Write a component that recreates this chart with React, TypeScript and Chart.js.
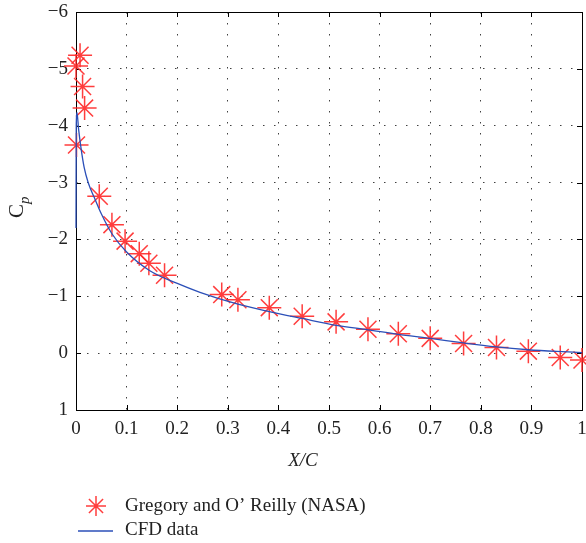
import React, { useEffect, useRef } from "react";
import { Chart, registerables } from "chart.js";

Chart.register(...registerables);

// Experimental data: Gregory and O' Reilly (NASA)
const expX = [0.008, 0.0, 0.013, 0.017, 0.001, 0.046, 0.071, 0.097, 0.125, 0.144, 0.175, 0.288, 0.32, 0.382, 0.447, 0.514, 0.577, 0.637, 0.7, 0.766, 0.831, 0.894, 0.957, 1.0];
const expCp = [-5.24, -5.05, -4.69, -4.31, -3.66, -2.76, -2.26, -1.97, -1.75, -1.58, -1.37, -1.03, -0.94, -0.8, -0.65, -0.55, -0.42, -0.34, -0.26, -0.17, -0.1, -0.035, 0.076, 0.12];

// CFD data
const cfdX = [0, 0.0005, 0.002, 0.005, 0.01, 0.016, 0.024, 0.036, 0.05, 0.071, 0.1, 0.146, 0.199, 0.245, 0.32, 0.382, 0.447, 0.514, 0.577, 0.637, 0.7, 0.766, 0.831, 0.894, 0.95, 1.0];
const cfdCp = [-2.2, -4.0, -4.23, -3.95, -3.6, -3.27, -3.0, -2.74, -2.45, -2.1, -1.78, -1.45, -1.23, -1.07, -0.86, -0.73, -0.61, -0.49, -0.41, -0.33, -0.26, -0.18, -0.11, -0.06, -0.03, -0.01];

const seriesLabels = ["Gregory and O\u2019 Reilly (NASA)", "CFD data"];
const xAxisLabel = "X/C";

const FONT = "'Liberation Serif', 'Times New Roman', serif";
const RED = "rgba(255, 40, 40, 0.9)";
const BLUE = "#2b4fb8";

const boxPlugin = {
  id: "boxTicks",
  beforeDatasetsDraw(chart: any) {
    const { ctx, chartArea: a, scales } = chart;
    ctx.save();
    ctx.strokeStyle = "#000";
    ctx.lineWidth = 1;
    ctx.strokeRect(Math.round(a.left) + 0.5, Math.round(a.top) + 0.5, Math.round(a.right - a.left), Math.round(a.bottom - a.top));
    const tl = 5;
    ctx.beginPath();
    scales.x.ticks.forEach((t: any) => {
      const px = Math.round(scales.x.getPixelForValue(t.value)) + 0.5;
      ctx.moveTo(px, a.bottom); ctx.lineTo(px, a.bottom - tl);
      ctx.moveTo(px, a.top); ctx.lineTo(px, a.top + tl);
    });
    scales.y.ticks.forEach((t: any) => {
      const py = Math.round(scales.y.getPixelForValue(t.value)) + 0.5;
      ctx.moveTo(a.left, py); ctx.lineTo(a.left + tl, py);
      ctx.moveTo(a.right, py); ctx.lineTo(a.right - tl, py);
    });
    ctx.stroke();
    ctx.restore();
  },
  afterDraw(chart: any) {
    const { ctx } = chart;
    ctx.save();
    ctx.fillStyle = "#222";
    // x axis title
    ctx.font = `italic 19px ${FONT}`;
    ctx.textAlign = "center";
    ctx.textBaseline = "middle";
    ctx.fillText(xAxisLabel, 303, 461);
    // y axis title C_p
    ctx.translate(17, 211);
    ctx.rotate(-Math.PI / 2);
    ctx.textAlign = "left";
    ctx.textBaseline = "middle";
    ctx.font = `21px ${FONT}`;
    const cw = ctx.measureText("C").width;
    ctx.fillText("C", -7, 0);
    ctx.font = `italic 15px ${FONT}`;
    ctx.fillText("p", -7 + cw, 8);
    ctx.restore();

    // legend
    ctx.save();
    const sx = 96, sy = 506, r = 10;
    ctx.strokeStyle = RED;
    ctx.lineWidth = 1.5;
    ctx.beginPath();
    ctx.moveTo(sx - r, sy); ctx.lineTo(sx + r, sy);
    ctx.moveTo(sx, sy - r); ctx.lineTo(sx, sy + r);
    const d = r * Math.SQRT1_2;
    ctx.moveTo(sx - d, sy - d); ctx.lineTo(sx + d, sy + d);
    ctx.moveTo(sx - d, sy + d); ctx.lineTo(sx + d, sy - d);
    ctx.stroke();
    ctx.strokeStyle = BLUE;
    ctx.lineWidth = 1.3;
    ctx.beginPath();
    ctx.moveTo(78, 531); ctx.lineTo(113, 531);
    ctx.stroke();
    ctx.fillStyle = "#222";
    ctx.font = `19px ${FONT}`;
    ctx.textAlign = "left";
    ctx.textBaseline = "middle";
    ctx.fillText(seriesLabels[0], 125, 506);
    ctx.fillText(seriesLabels[1], 125, 530);
    ctx.restore();
  },
};

export default function App() {
  const ref = useRef<HTMLCanvasElement>(null);
  useEffect(() => {
    if (!ref.current) return;
    const chart = new Chart(ref.current, {
      type: "scatter",
      data: {
        datasets: [
          {
            label: seriesLabels[0],
            data: expX.map((x, i) => ({ x, y: expCp[i] })),
            pointStyle: "star",
            pointRadius: 12,
            pointBorderWidth: 1.5,
            borderColor: RED,
            backgroundColor: RED,
            showLine: false,
            clip: false,
            order: 1,
          } as any,
          {
            label: seriesLabels[1],
            data: cfdX.map((x, i) => ({ x, y: cfdCp[i] })),
            showLine: true,
            pointRadius: 0,
            borderColor: BLUE,
            borderWidth: 1.3,
            cubicInterpolationMode: "monotone",
            clip: false,
            order: 0,
          } as any,
        ],
      },
      options: {
        responsive: false,
        animation: false,
        layout: { autoPadding: false, padding: { left: 0, right: 4, top: 12, bottom: 73 } },
        plugins: { legend: { display: false }, tooltip: { enabled: false } },
        scales: {
          x: {
            type: "linear",
            min: 0,
            max: 1,
            ticks: {
              stepSize: 0.1,
              padding: 8,
              color: "#222",
              font: { family: FONT, size: 19 },
              callback: (v: any) => String(Number(Number(v).toFixed(1))),
            },
            grid: { color: "rgba(0,0,0,0.75)", lineWidth: 1, drawTicks: false },
            border: { display: false, dash: [1.5, 9.5] },
            afterFit: (s: any) => { s.height = 60; s.paddingLeft = 0; s.paddingRight = 0; },
          },
          y: {
            type: "linear",
            min: -6,
            max: 1,
            reverse: true,
            ticks: {
              stepSize: 1,
              padding: 8,
              color: "#222",
              font: { family: FONT, size: 19 },
              callback: (v: any) => String(v).replace("-", "\u2212"),
            },
            grid: { color: "rgba(0,0,0,0.75)", lineWidth: 1, drawTicks: false },
            border: { display: false, dash: [1.5, 9.5] },
            afterFit: (s: any) => { s.width = 76; s.paddingTop = 0; s.paddingBottom = 0; },
          },
        },
      },
      plugins: [boxPlugin],
    });
    return () => chart.destroy();
  }, []);
  return (
    <div style={{ position: "absolute", left: 0, top: 0, width: 586, height: 543, background: "#fff" }}>
      <canvas ref={ref} width={586} height={543} />
    </div>
  );
}
